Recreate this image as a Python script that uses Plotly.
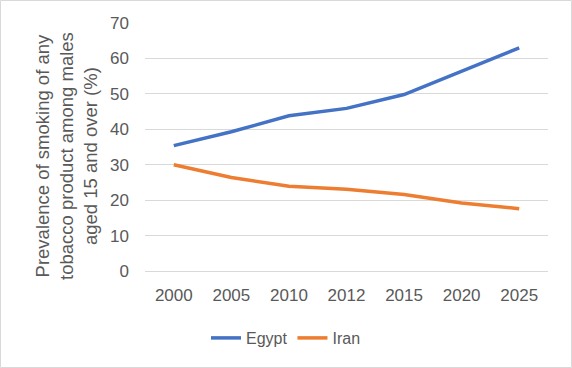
import plotly.graph_objects as go

years = ["2000", "2005", "2010", "2012", "2015", "2020", "2025"]
egypt = [35.4, 39.3, 43.8, 45.9, 49.8, 56.4, 63.0]
iran = [30.0, 26.4, 23.9, 23.1, 21.6, 19.2, 17.6]

W, H = 572, 368
L, R, T, B = 145, 24, 23, 97
pw, ph = W - L - R, H - T - B

font = dict(family="Liberation Sans, Arial, sans-serif", size=17, color="#595959")

fig = go.Figure()
fig.add_trace(go.Scatter(x=years, y=egypt, mode="lines", name="Egypt",
                         line=dict(color="#4472C4", width=3.5)))
fig.add_trace(go.Scatter(x=years, y=iran, mode="lines", name="Iran",
                         line=dict(color="#ED7D31", width=3.5)))

fig.update_layout(
    width=W, height=H,
    margin=dict(l=L, r=R, t=T, b=B, pad=0),
    paper_bgcolor="white", plot_bgcolor="white",
    font=font,
    showlegend=True,
    legend=dict(orientation="h", x=(286 - L) / pw, xanchor="center",
                y=-(338 - (T + ph)) / ph, yanchor="middle",
                font=dict(family="Liberation Sans, Arial, sans-serif", size=16, color="#595959"),
                itemwidth=30, bgcolor="rgba(0,0,0,0)"),
    xaxis=dict(type="category", range=[-0.5, 6.5], showgrid=False,
               showline=False, zeroline=False, ticks="", ticklabelstandoff=12,
               tickfont=font),
    yaxis=dict(range=[0, 70], dtick=10, showgrid=True, gridcolor="#D9D9D9",
               gridwidth=1, zeroline=True, zerolinecolor="#D9D9D9", zerolinewidth=1,
               showline=False, ticks="", ticklabelstandoff=15, tickfont=font),
)

fig.add_annotation(
    text="Prevalence of smoking of any<br>tobacco product among males<br>aged 15 and over (%)",
    xref="paper", yref="paper", x=(66 - L) / pw, y=(T + ph - 156) / ph,
    xanchor="center", yanchor="middle", textangle=-90, showarrow=False,
    font=dict(family="Liberation Sans, Arial, sans-serif", size=18.5, color="#595959"),
)

fig.add_shape(type="rect", xref="paper", yref="paper",
              x0=(0.5 - L) / pw, x1=(W - 0.5 - L) / pw,
              y0=-(H - 0.5 - T - ph) / ph, y1=(T + ph - 0.5) / ph,
              line=dict(color="#D9D9D9", width=1), layer="below")

fig.write_html("out.html", config={"displayModeBar": False},
               post_script="document.body.style.margin='0';")
